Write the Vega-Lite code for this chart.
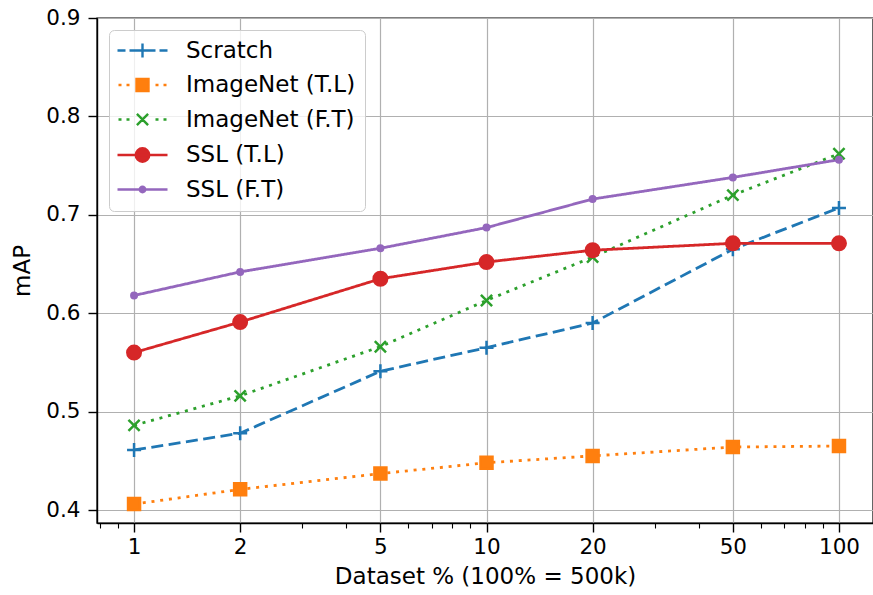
{
  "$schema": "https://vega.github.io/schema/vega-lite/v6.json",
  "width": 776,
  "height": 505,
  "autosize": {"type": "none"},
  "padding": {"left": 97, "top": 18, "right": 0, "bottom": 72},
  "background": "white",
  "config": {
    "font": "DejaVu Sans",
    "view": {"stroke": "black", "strokeWidth": 1.4},
    "axis": {
      "labelFont": "DejaVu Sans",
      "titleFont": "DejaVu Sans",
      "labelFontSize": 21.5,
      "titleFontSize": 23,
      "labelColor": "black",
      "titleColor": "black",
      "titleFontWeight": "normal",
      "tickColor": "black",
      "domainColor": "black",
      "tickWidth": 1.4,
      "domainWidth": 1.4,
      "gridColor": "#b0b0b0",
      "gridWidth": 1.2,
      "gridOpacity": 1
    }
  },
  "data": {
    "values": [
      {"series": "Scratch", "pct": 1, "map": 0.461},
      {"series": "Scratch", "pct": 2, "map": 0.478},
      {"series": "Scratch", "pct": 5, "map": 0.541},
      {"series": "Scratch", "pct": 10, "map": 0.565},
      {"series": "Scratch", "pct": 20, "map": 0.590},
      {"series": "Scratch", "pct": 50, "map": 0.665},
      {"series": "Scratch", "pct": 100, "map": 0.707},
      {"series": "ImageNet (T.L)", "pct": 1, "map": 0.406},
      {"series": "ImageNet (T.L)", "pct": 2, "map": 0.421},
      {"series": "ImageNet (T.L)", "pct": 5, "map": 0.437},
      {"series": "ImageNet (T.L)", "pct": 10, "map": 0.448},
      {"series": "ImageNet (T.L)", "pct": 20, "map": 0.455},
      {"series": "ImageNet (T.L)", "pct": 50, "map": 0.464},
      {"series": "ImageNet (T.L)", "pct": 100, "map": 0.465},
      {"series": "ImageNet (F.T)", "pct": 1, "map": 0.486},
      {"series": "ImageNet (F.T)", "pct": 2, "map": 0.516},
      {"series": "ImageNet (F.T)", "pct": 5, "map": 0.566},
      {"series": "ImageNet (F.T)", "pct": 10, "map": 0.613},
      {"series": "ImageNet (F.T)", "pct": 20, "map": 0.657},
      {"series": "ImageNet (F.T)", "pct": 50, "map": 0.720},
      {"series": "ImageNet (F.T)", "pct": 100, "map": 0.762},
      {"series": "SSL (T.L)", "pct": 1, "map": 0.560},
      {"series": "SSL (T.L)", "pct": 2, "map": 0.591},
      {"series": "SSL (T.L)", "pct": 5, "map": 0.635},
      {"series": "SSL (T.L)", "pct": 10, "map": 0.652},
      {"series": "SSL (T.L)", "pct": 20, "map": 0.664},
      {"series": "SSL (T.L)", "pct": 50, "map": 0.671},
      {"series": "SSL (T.L)", "pct": 100, "map": 0.671},
      {"series": "SSL (F.T)", "pct": 1, "map": 0.618},
      {"series": "SSL (F.T)", "pct": 2, "map": 0.642},
      {"series": "SSL (F.T)", "pct": 5, "map": 0.666},
      {"series": "SSL (F.T)", "pct": 10, "map": 0.687},
      {"series": "SSL (F.T)", "pct": 20, "map": 0.716},
      {"series": "SSL (F.T)", "pct": 50, "map": 0.738},
      {"series": "SSL (F.T)", "pct": 100, "map": 0.756}
    ]
  },
  "layer": [
    {
      "mark": {"type": "line", "strokeWidth": 2.8, "strokeCap": "butt"},
      "encoding": {
        "x": {
          "field": "pct", "type": "quantitative",
          "scale": {"type": "log", "domain": [0.785, 124.9], "nice": false},
          "axis": {"values": [1, 2, 5, 10, 20, 50, 100], "format": "~g", "title": "Dataset % (100% = 500k)", "tickSize": 9, "labelPadding": 4, "titlePadding": 8, "grid": true, "orient": "bottom", "labelFlush": false}
        },
        "y": {
          "field": "map", "type": "quantitative",
          "scale": {"domain": [0.3868, 0.9], "nice": false, "zero": false},
          "axis": {"values": [0.4, 0.5, 0.6, 0.7, 0.8, 0.9], "format": ".1f", "title": "mAP", "tickSize": 9, "labelPadding": 8, "titlePadding": 11, "grid": true}
        },
        "color": {
          "field": "series", "type": "nominal",
          "scale": {"domain": ["Scratch", "ImageNet (T.L)", "ImageNet (F.T)", "SSL (T.L)", "SSL (F.T)"], "range": ["#1f77b4", "#ff7f0e", "#2ca02c", "#d62728", "#9467bd"]},
          "legend": null
        },
        "strokeDash": {
          "field": "series", "type": "nominal",
          "scale": {"domain": ["Scratch", "ImageNet (T.L)", "ImageNet (F.T)", "SSL (T.L)", "SSL (F.T)"], "range": [[12, 5.5], [3, 5.8], [3, 5.8], [1, 0], [1, 0]]},
          "legend": null
        }
      }
    },
    {
      "mark": {"type": "point", "filled": true, "size": 4, "strokeWidth": 2.5, "opacity": 1, "strokeCap": "butt"},
      "encoding": {
        "x": {"field": "pct", "type": "quantitative", "axis": null},
        "y": {"field": "map", "type": "quantitative"},
        "fill": {
          "field": "series", "type": "nominal",
          "scale": {"domain": ["Scratch", "ImageNet (T.L)", "ImageNet (F.T)", "SSL (T.L)", "SSL (F.T)"], "range": ["#1f77b4", "#ff7f0e", "#2ca02c", "#d62728", "#9467bd"]},
          "legend": null
        },
        "stroke": {
          "field": "series", "type": "nominal",
          "scale": {"domain": ["Scratch", "ImageNet (T.L)", "ImageNet (F.T)", "SSL (T.L)", "SSL (F.T)"], "range": ["#1f77b4", "#ff7f0e", "#2ca02c", "#d62728", "#9467bd"]},
          "legend": null
        },
        "shape": {
          "field": "series", "type": "nominal",
          "scale": {"domain": ["Scratch", "ImageNet (T.L)", "ImageNet (F.T)", "SSL (T.L)", "SSL (F.T)"], "range": [
            "M-7,0H7M0,-7V7",
            "M-6,-6H6V6H-6Z",
            "M-5.6,-5.6L5.6,5.6M-5.6,5.6L5.6,-5.6",
            "M6.75,0A6.75,6.75 0 1,1 -6.75,0A6.75,6.75 0 1,1 6.75,0Z",
            "M2.75,0A2.75,2.75 0 1,1 -2.75,0A2.75,2.75 0 1,1 2.75,0Z"
          ]},
          "legend": null
        }
      }
    },
    {
      "transform": [{"filter": "false"}],
      "mark": {"type": "point", "filled": true, "size": 4, "strokeWidth": 2.4, "opacity": 1, "strokeCap": "butt"},
      "encoding": {
        "x": {
          "field": "pct", "type": "quantitative",
          "axis": {"values": [0.8, 0.9, 3, 4, 6, 7, 8, 9, 30, 40, 60, 70, 80, 90], "labels": false, "grid": false, "domain": false, "tickSize": 5, "tickWidth": 1.1, "orient": "bottom", "title": null}
        },
        "y": {"field": "map", "type": "quantitative"},
        "fill": {
          "field": "series", "type": "nominal",
          "scale": {"domain": ["Scratch", "ImageNet (T.L)", "ImageNet (F.T)", "SSL (T.L)", "SSL (F.T)"], "range": ["#1f77b4", "#ff7f0e", "#2ca02c", "#d62728", "#9467bd"]},
          "legend": {
            "title": null, "orient": "none", "legendX": 12, "legendY": 12, "padding": 9,
            "fillColor": "rgba(255,255,255,0.8)", "strokeColor": "#cccccc", "cornerRadius": 5,
            "symbolSize": 4, "symbolStrokeWidth": 2.4, "symbolOffset": 13, "labelOffset": 32,
            "labelFontSize": 23, "labelFont": "DejaVu Sans", "labelColor": "black", "rowPadding": 10.5, "labelLimit": 400
          }
        },
        "stroke": {
          "field": "series", "type": "nominal",
          "scale": {"domain": ["Scratch", "ImageNet (T.L)", "ImageNet (F.T)", "SSL (T.L)", "SSL (F.T)"], "range": ["#1f77b4", "#ff7f0e", "#2ca02c", "#d62728", "#9467bd"]},
          "legend": {
            "title": null, "orient": "none", "legendX": 12, "legendY": 12, "padding": 9,
            "fillColor": "rgba(255,255,255,0.8)", "strokeColor": "#cccccc", "cornerRadius": 5,
            "symbolSize": 4, "symbolStrokeWidth": 2.4, "symbolOffset": 13, "labelOffset": 32,
            "labelFontSize": 23, "labelFont": "DejaVu Sans", "labelColor": "black", "rowPadding": 10.5, "labelLimit": 400
          }
        },
        "shape": {
          "field": "series", "type": "nominal",
          "scale": {"domain": ["Scratch", "ImageNet (T.L)", "ImageNet (F.T)", "SSL (T.L)", "SSL (F.T)"], "range": [
            "M-25,0H-17M-13,0H-5M5,0H13M17,0H25M-7,0H7M0,-7V7",
            "M-24,0H-21M-16,0H-13M13,0H16M21,0H24M-6,-6H6V6H-6Z",
            "M-24,0H-21M-16,0H-13M13,0H16M21,0H24M-5.6,-5.6L5.6,5.6M-5.6,5.6L5.6,-5.6",
            "M-25,0H25M6.75,0A6.75,6.75 0 1,1 -6.75,0A6.75,6.75 0 1,1 6.75,0Z",
            "M-25,0H25M2.75,0A2.75,2.75 0 1,1 -2.75,0A2.75,2.75 0 1,1 2.75,0Z"
          ]},
          "legend": {
            "title": null, "orient": "none", "legendX": 12, "legendY": 12, "padding": 9,
            "fillColor": "rgba(255,255,255,0.8)", "strokeColor": "#cccccc", "cornerRadius": 5,
            "symbolSize": 4, "symbolStrokeWidth": 2.4, "symbolOffset": 13, "labelOffset": 32,
            "labelFontSize": 23, "labelFont": "DejaVu Sans", "labelColor": "black", "rowPadding": 10.5, "labelLimit": 400
          }
        }
      }
    }
  ],
  "resolve": {"scale": {"shape": "independent", "fill": "independent", "stroke": "independent"}, "axis": {"x": "independent"}}
}
